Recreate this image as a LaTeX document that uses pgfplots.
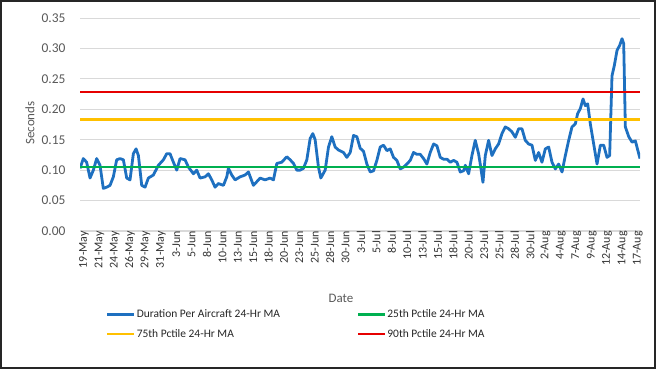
\documentclass[border=0pt]{standalone}
\usepackage{fontspec}
\setmainfont{Carlito}
\usepackage{pgfplots}
\pgfplotsset{compat=1.18}
\definecolor{cblue}{RGB}{30,112,192}
\definecolor{cgreen}{RGB}{0,176,80}
\definecolor{cyellow}{RGB}{255,192,0}
\definecolor{cred}{RGB}{230,0,0}
\definecolor{ctext}{RGB}{89,89,89}
\definecolor{cgrid}{RGB}{217,217,217}
\begin{document}
\begin{tikzpicture}
\path[use as bounding box] (-80bp,-150bp) rectangle (577bp,231bp);
\draw[black!85, line width=1.8bp] (-79bp,-137bp) rectangle (575bp,230bp);
\begin{axis}[
  at={(0,0)}, anchor=south west,
  width=560bp, height=213bp, scale only axis,
  xmin=0, xmax=91, ymin=0, ymax=0.35,
  axis lines*=left,
  y axis line style={draw=none},
  x axis line style={draw=cgrid, line width=1.8bp},
  major tick length=0pt,
  ymajorgrids, grid style={draw=cgrid, line width=0.9bp},
  ytick={0,0.05,...,0.35},
  /pgf/number format/assume math mode=true,
  yticklabel style={/pgf/number format/fixed, /pgf/number format/fixed zerofill, /pgf/number format/precision=2,
    font=\fontsize{13.5}{15}\selectfont, text=ctext, anchor=east, xshift=-11bp},
  xtick={0,2.5,...,90},
  xticklabels={19-May,21-May,24-May,26-May,29-May,31-May,3-Jun,5-Jun,8-Jun,10-Jun,13-Jun,15-Jun,18-Jun,20-Jun,23-Jun,25-Jun,28-Jun,30-Jun,3-Jul,5-Jul,8-Jul,10-Jul,13-Jul,15-Jul,18-Jul,20-Jul,23-Jul,25-Jul,28-Jul,30-Jul,2-Aug,4-Aug,7-Aug,9-Aug,12-Aug,14-Aug,17-Aug},
  xticklabel style={font=\fontsize{12}{13}\selectfont, text=black!80, rotate=90, anchor=east, inner sep=0pt, yshift=-4bp},
  legend columns=2,
  legend cell align=left,
  legend style={at={(0.046,-0.365)}, anchor=north west, draw=none, fill=none,
    font=\fontsize{11.5}{13}\selectfont, text=black!85, inner sep=0pt, row sep=8bp,
    nodes={inner sep=1bp},
    /tikz/every even column/.append style={column sep=76bp}},
  legend image code/.code={\draw[#1] (0bp,0bp) -- (27bp,0bp);},
]
\addplot[cblue, line width=2.8bp, line join=round] coordinates {
(0.00,0.103)(0.54,0.119)(1.08,0.113)(1.63,0.087)(2.17,0.100)(2.71,0.119)(3.25,0.108)(3.79,0.070)
(4.34,0.072)(4.88,0.075)(5.42,0.089)(5.96,0.117)(6.50,0.119)(7.05,0.117)(7.59,0.087)(8.13,0.084)
(8.67,0.127)(9.11,0.135)(9.49,0.124)(10.03,0.075)(10.57,0.072)(11.11,0.087)(11.92,0.092)(12.74,0.108)
(13.55,0.117)(14.09,0.127)(14.63,0.127)(15.18,0.113)(15.72,0.100)(16.26,0.119)(17.07,0.117)(17.62,0.105)
(18.43,0.094)(18.97,0.100)(19.51,0.087)(20.33,0.089)(20.87,0.094)(21.41,0.084)(21.95,0.072)(22.49,0.078)
(23.31,0.075)(23.85,0.089)(24.12,0.103)(24.66,0.092)(25.20,0.084)(26.02,0.089)(26.83,0.092)(27.37,0.097)
(28.18,0.075)(28.73,0.081)(29.27,0.087)(30.08,0.084)(30.89,0.087)(31.44,0.084)(31.98,0.111)(32.79,0.113)
(33.60,0.122)(34.15,0.117)(34.69,0.111)(35.23,0.100)(35.77,0.100)(36.31,0.103)(36.86,0.117)(37.40,0.152)
(37.83,0.160)(38.21,0.150)(38.75,0.105)(39.13,0.087)(39.84,0.100)(40.38,0.138)(40.92,0.155)(41.46,0.138)
(42.01,0.133)(42.82,0.129)(43.36,0.121)(43.91,0.129)(44.45,0.157)(44.99,0.155)(45.53,0.136)(46.07,0.131)
(46.62,0.110)(47.16,0.097)(47.70,0.099)(48.24,0.116)(48.78,0.138)(49.33,0.141)(49.87,0.132)(50.41,0.135)
(50.95,0.121)(51.49,0.116)(52.04,0.102)(52.58,0.105)(53.12,0.110)(53.66,0.116)(54.20,0.129)(54.75,0.126)
(55.29,0.126)(55.83,0.119)(56.37,0.110)(56.91,0.129)(57.46,0.143)(58.00,0.140)(58.54,0.121)(59.08,0.118)
(59.63,0.118)(60.17,0.113)(60.71,0.116)(61.25,0.113)(61.79,0.097)(62.34,0.099)(62.61,0.108)(63.15,0.094)
(63.69,0.124)(64.23,0.149)(64.77,0.127)(65.04,0.110)(65.48,0.080)(65.86,0.124)(66.40,0.149)(66.94,0.124)
(67.48,0.135)(68.02,0.143)(68.57,0.160)(69.11,0.171)(69.65,0.168)(70.19,0.163)(70.74,0.154)(71.28,0.168)
(71.82,0.168)(72.36,0.149)(72.90,0.143)(73.45,0.141)(73.99,0.116)(74.53,0.129)(75.07,0.113)(75.61,0.135)
(76.16,0.138)(76.70,0.113)(77.24,0.102)(77.78,0.110)(78.33,0.097)(78.87,0.124)(79.41,0.149)(79.95,0.171)
(80.49,0.176)(80.87,0.193)(81.30,0.201)(81.74,0.217)(82.12,0.206)(82.50,0.209)(82.93,0.176)(83.47,0.143)
(84.02,0.110)(84.56,0.141)(85.10,0.141)(85.64,0.121)(86.07,0.124)(86.45,0.255)(86.83,0.272)(87.27,0.297)
(87.70,0.305)(88.08,0.316)(88.35,0.308)(88.62,0.171)(89.17,0.155)(89.71,0.146)(90.25,0.148)(90.79,0.127)
(91.00,0.119)
};
\addlegendentry{Duration Per Aircraft 24-Hr MA}
\addplot[cgreen, line width=2.4bp] coordinates {(0,0.105) (91,0.105)};
\addlegendentry{25th Pctile 24-Hr MA}
\addplot[cyellow, line width=2.4bp] coordinates {(0,0.183) (91,0.183)};
\addlegendentry{75th Pctile 24-Hr MA}
\addplot[cred, line width=2.4bp] coordinates {(0,0.228) (91,0.228)};
\addlegendentry{90th Pctile 24-Hr MA}
\end{axis}
\node[rotate=90, font=\fontsize{13}{15}\selectfont, text=ctext] at (-50bp,108bp) {Seconds};
\node[font=\fontsize{13}{15}\selectfont, text=ctext] at (261bp,-67bp) {Date};
\end{tikzpicture}
\end{document}
